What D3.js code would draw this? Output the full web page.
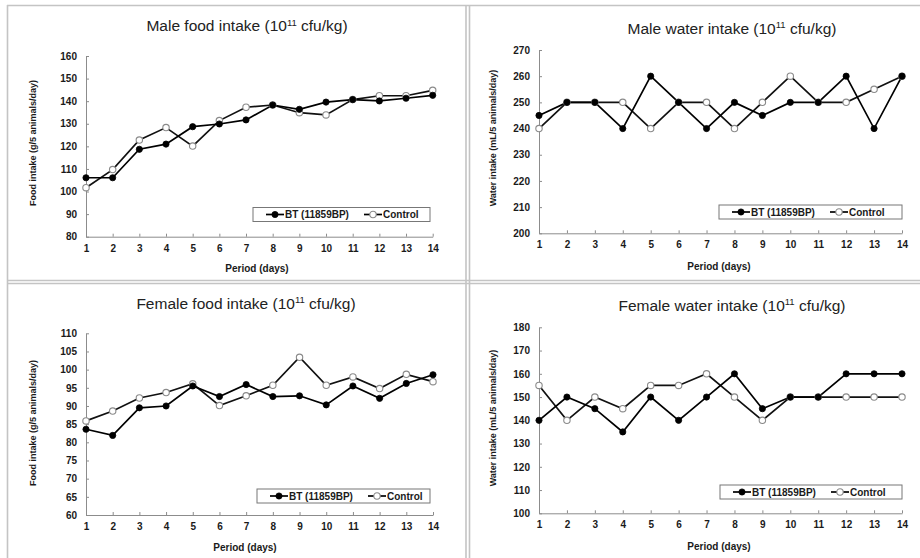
<!DOCTYPE html>
<html>
<head>
<meta charset="utf-8">
<script src="https://cdn.jsdelivr.net/npm/d3@7"></script>
<style>
body { margin: 0; background: #fff; }
svg { font-family: "Liberation Sans", Arial, sans-serif; }
</style>
</head>
<body>
<div id="chart"></div>
<script>
// data
var days = [1, 2, 3, 4, 5, 6, 7, 8, 9, 10, 11, 12, 13, 14];
var seriesNames = ["BT (11859BP)", "Control"];

var maleFoodBT      = [106.1, 106.1, 118.7, 121.0, 128.7, 129.9, 131.7, 138.3, 136.4, 139.6, 140.7, 140.1, 141.3, 142.6];
var maleFoodControl = [101.7, 109.7, 122.8, 128.3, 120.1, 131.4, 137.3, 138.3, 134.9, 133.9, 140.7, 142.4, 142.4, 144.8];
var maleFoodTicks   = [80, 90, 100, 110, 120, 130, 140, 150, 160];

var maleWaterBT      = [245, 250, 250, 240, 260, 250, 240, 250, 245, 250, 250, 260, 240, 260];
var maleWaterControl = [240, 250, 250, 250, 240, 250, 250, 240, 250, 260, 250, 250, 255, 260];
var maleWaterTicks   = [200, 210, 220, 230, 240, 250, 260, 270];

var femaleFoodBT      = [83.6, 81.9, 89.5, 90.0, 95.5, 92.6, 95.9, 92.6, 92.8, 90.3, 95.5, 92.1, 96.2, 98.6];
var femaleFoodControl = [85.9, 88.6, 92.2, 93.7, 96.1, 90.1, 92.8, 95.7, 103.4, 95.7, 98.0, 94.8, 98.7, 96.7];
var femaleFoodTicks   = [60, 65, 70, 75, 80, 85, 90, 95, 100, 105, 110];

var femaleWaterBT      = [140, 150, 145, 135, 150, 140, 150, 160, 145, 150, 150, 160, 160, 160];
var femaleWaterControl = [155, 140, 150, 145, 155, 155, 160, 150, 140, 150, 150, 150, 150, 150];
var femaleWaterTicks   = [100, 110, 120, 130, 140, 150, 160, 170, 180];

var foodLabel = "Food intake (g/5 animals/day)";
var waterLabel = "Water intake (mL/5 animals/day)";
var xLabel = "Period (days)";

var width = 920, height = 558;

var svg = d3.select("#chart").append("svg")
    .attr("width", width)
    .attr("height", height);

// panel frames
var frame = svg.append("g").attr("stroke", "#c4c4c4").attr("stroke-width", 1.6);
frame.append("line").attr("x1", 7.5).attr("y1", 5).attr("x2", 7.5).attr("y2", height);
frame.append("line").attr("x1", 7).attr("y1", 5.5).attr("x2", width).attr("y2", 5.5);
frame.append("line").attr("x1", 466).attr("y1", 5).attr("x2", 466).attr("y2", height);
frame.append("line").attr("x1", 469.5).attr("y1", 5).attr("x2", 469.5).attr("y2", height);
frame.append("line").attr("x1", 7).attr("y1", 280.5).attr("x2", width).attr("y2", 280.5);
frame.append("line").attr("x1", 7).attr("y1", 283.5).attr("x2", width).attr("y2", 283.5);

var panels = [
  { title: "Male food intake (10", bt: maleFoodBT, ctl: maleFoodControl, ticks: maleFoodTicks, ylab: foodLabel,
    x0: 86, x1: 432.7, yTop: 56, yBot: 236.7, tx: 247, ty: 31, xlx: 257, xly: 272, ylx: 35.5, yly: 143,
    lx: 253, ly: 207.5, lw: 177, lh: 14 },
  { title: "Male water intake (10", bt: maleWaterBT, ctl: maleWaterControl, ticks: maleWaterTicks, ylab: waterLabel,
    x0: 539, x1: 902, yTop: 50, yBot: 233.3, tx: 732, ty: 33.5, xlx: 719, xly: 269.5, ylx: 495.5, yly: 138,
    lx: 719, ly: 205, lw: 183, lh: 14 },
  { title: "Female food intake (10", bt: femaleFoodBT, ctl: femaleFoodControl, ticks: femaleFoodTicks, ylab: foodLabel,
    x0: 86, x1: 433, yTop: 333.3, yBot: 515, tx: 246, ty: 308.5, xlx: 245, xly: 551, ylx: 35.5, yly: 423,
    lx: 257, ly: 489, lw: 173, lh: 14 },
  { title: "Female water intake (10", bt: femaleWaterBT, ctl: femaleWaterControl, ticks: femaleWaterTicks, ylab: waterLabel,
    x0: 539, x1: 902, yTop: 327.3, yBot: 513.3, tx: 732, ty: 310.5, xlx: 719, xly: 549.5, ylx: 495.5, yly: 418,
    lx: 720, ly: 485, lw: 182, lh: 14 }
];

function drawMarkers(g, pts, filled) {
  g.selectAll(null)
    .data(pts)
    .enter().append("circle")
    .attr("cx", function(d) { return d[0]; })
    .attr("cy", function(d) { return d[1]; })
    .attr("r", filled ? 3.1 : 3.2)
    .attr("fill", filled ? "#000" : "#fff")
    .attr("stroke", filled ? "#000" : "#8a8a8a")
    .attr("stroke-width", filled ? 0.8 : 1.1);
}

function drawPanel(p) {
  var g = svg.append("g");
  var x = d3.scaleLinear().domain([1, 14]).range([p.x0, p.x1]);
  var y = d3.scaleLinear().domain([p.ticks[0], p.ticks[p.ticks.length - 1]]).range([p.yBot, p.yTop]);

  var xAxis = g.append("g")
      .attr("transform", "translate(0," + p.yBot + ")")
      .call(d3.axisBottom(x).tickValues(days).tickSize(-3).tickSizeOuter(0).tickPadding(8));
  var yAxis = g.append("g")
      .attr("transform", "translate(" + p.x0 + ",0)")
      .call(d3.axisLeft(y).tickValues(p.ticks).tickSize(-3).tickSizeOuter(0).tickPadding(9));

  [xAxis, yAxis].forEach(function(a) {
    a.select(".domain").attr("stroke", "#8c8c8c");
    a.selectAll(".tick line").attr("stroke", "#8c8c8c");
    a.selectAll("text")
      .attr("fill", "#1a1a1a")
      .style("font-size", "10px")
      .style("font-weight", "bold");
  });

  var line = d3.line()
      .x(function(d, i) { return x(days[i]); })
      .y(function(d) { return y(d); });

  g.append("path").datum(p.ctl).attr("d", line)
    .attr("fill", "none").attr("stroke", "#111").attr("stroke-width", 1.7);
  g.append("path").datum(p.bt).attr("d", line)
    .attr("fill", "none").attr("stroke", "#000").attr("stroke-width", 1.7);

  drawMarkers(g, p.ctl.map(function(d, i) { return [x(days[i]), y(d)]; }), false);
  drawMarkers(g, p.bt.map(function(d, i) { return [x(days[i]), y(d)]; }), true);

  // title with superscript
  var t = g.append("text")
      .attr("x", p.tx).attr("y", p.ty)
      .attr("text-anchor", "middle")
      .attr("fill", "#222")
      .style("font-size", "15.5px")
      .text(p.title);
  t.append("tspan").attr("dy", -5.5).style("font-size", "9.5px").text("11");
  t.append("tspan").attr("dy", 5.5).text(" cfu/kg)");

  g.append("text")
    .attr("x", p.xlx).attr("y", p.xly)
    .attr("text-anchor", "middle")
    .attr("fill", "#1a1a1a")
    .style("font-size", "10px").style("font-weight", "bold")
    .text(xLabel);

  g.append("text")
    .attr("transform", "translate(" + p.ylx + "," + p.yly + ") rotate(-90)")
    .attr("text-anchor", "middle")
    .attr("fill", "#1a1a1a")
    .style("font-size", "9px").style("font-weight", "bold")
    .text(p.ylab);

  // legend
  var lg = g.append("g").attr("transform", "translate(" + p.lx + "," + p.ly + ")");
  lg.append("rect").attr("width", p.lw).attr("height", p.lh)
    .attr("fill", "#fff").attr("stroke", "#777").attr("stroke-width", 1);
  var cy = p.lh / 2;
  var items = [{ x: 13, filled: true }, { x: 111, filled: false }];
  items.forEach(function(it, i) {
    lg.append("line").attr("x1", it.x).attr("x2", it.x + 18).attr("y1", cy).attr("y2", cy)
      .attr("stroke", "#000").attr("stroke-width", 1.7);
    drawMarkers(lg, [[it.x + 9, cy]], it.filled);
    lg.append("text").attr("x", it.x + 19).attr("y", cy + 3.6)
      .attr("fill", "#1a1a1a")
      .style("font-size", "10px").style("font-weight", "bold")
      .text(seriesNames[i]);
  });
}

panels.forEach(drawPanel);
</script>
</body>
</html>
